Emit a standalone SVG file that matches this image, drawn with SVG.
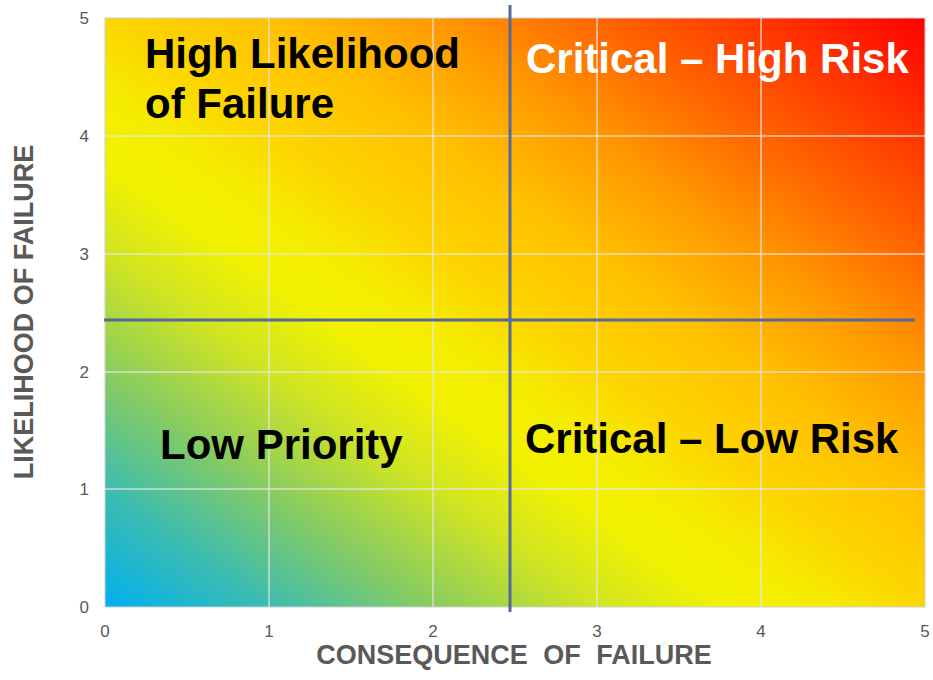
<svg xmlns="http://www.w3.org/2000/svg" width="933" height="680" viewBox="0 0 933 680">
  <defs>
    <linearGradient id="heat" x1="0" y1="1" x2="1" y2="0">
      <stop offset="0" stop-color="#00b0f0"/>
      <stop offset="0.1" stop-color="#3cbcb0"/>
      <stop offset="0.2" stop-color="#88cc60"/>
      <stop offset="0.3" stop-color="#cfe423"/>
      <stop offset="0.38" stop-color="#f2f200"/>
      <stop offset="0.44" stop-color="#f5ec00"/>
      <stop offset="0.5" stop-color="#fcd600"/>
      <stop offset="0.6" stop-color="#ffc000"/>
      <stop offset="0.7" stop-color="#ff9800"/>
      <stop offset="0.8" stop-color="#ff6400"/>
      <stop offset="0.9" stop-color="#ff3400"/>
      <stop offset="1" stop-color="#ff0000"/>
    </linearGradient>
    <style>
      .grid { stroke: #e6e6e6; stroke-opacity: 0.8; stroke-width: 1.5; fill: none; }
      .divider { stroke: #55699b; stroke-width: 3; fill: none; }
      .tick { font-family: "Liberation Sans", Arial, sans-serif; font-size: 17px; fill: #595959; }
      .axis { font-family: "Liberation Sans", Arial, sans-serif; font-size: 27px; font-weight: bold; fill: #595959; }
      .quad { font-family: "Liberation Sans", Arial, sans-serif; font-size: 42px; font-weight: bold; fill: #000000; }
      .quad-white { fill: #ffffff; }
    </style>
  </defs>
  <rect width="933" height="680" fill="#ffffff"/>

  <g id="plot">
    <rect x="105" y="18" width="820" height="589" fill="url(#heat)" stroke="#d0d0d0" stroke-width="1"/>
    <g id="gridlines">
      <line class="grid" x1="269" y1="18" x2="269" y2="607"/>
      <line class="grid" x1="433" y1="18" x2="433" y2="607"/>
      <line class="grid" x1="597" y1="18" x2="597" y2="607"/>
      <line class="grid" x1="761" y1="18" x2="761" y2="607"/>
      <line class="grid" x1="105" y1="136" x2="925" y2="136"/>
      <line class="grid" x1="105" y1="254" x2="925" y2="254"/>
      <line class="grid" x1="105" y1="372" x2="925" y2="372"/>
      <line class="grid" x1="105" y1="489" x2="925" y2="489"/>
    </g>
  </g>

  <g id="y-ticks" class="tick" text-anchor="end">
    <text x="89" y="24">5</text>
    <text x="89" y="142">4</text>
    <text x="89" y="260">3</text>
    <text x="89" y="378">2</text>
    <text x="89" y="495">1</text>
    <text x="89" y="613">0</text>
  </g>
  <g id="x-ticks" class="tick" text-anchor="middle">
    <text x="105" y="637">0</text>
    <text x="269" y="637">1</text>
    <text x="433" y="637">2</text>
    <text x="597" y="637">3</text>
    <text x="761" y="637">4</text>
    <text x="925" y="637">5</text>
  </g>

  <g id="connectors">
    <line class="divider" x1="510" y1="5" x2="510" y2="612"/>
    <line class="divider" x1="104" y1="320" x2="915" y2="320"/>
  </g>

  <g id="axis-x">
    <text class="axis" x="514" y="664" text-anchor="middle" word-spacing="8">CONSEQUENCE OF FAILURE</text>
  </g>
  <g id="axis-y">
    <text class="axis" x="0" y="0" text-anchor="middle" transform="translate(33 312) rotate(-90)">LIKELIHOOD OF FAILURE</text>
  </g>

  <g id="q-high-likelihood">
    <text class="quad" x="145" y="68">High Likelihood</text>
    <text class="quad" x="145" y="118">of Failure</text>
  </g>
  <g id="q-critical-high">
    <text class="quad quad-white" x="526" y="73">Critical – High Risk</text>
  </g>
  <g id="q-low-priority">
    <text class="quad" x="160" y="459">Low Priority</text>
  </g>
  <g id="q-critical-low">
    <text class="quad" x="525" y="453">Critical – Low Risk</text>
  </g>
</svg>
